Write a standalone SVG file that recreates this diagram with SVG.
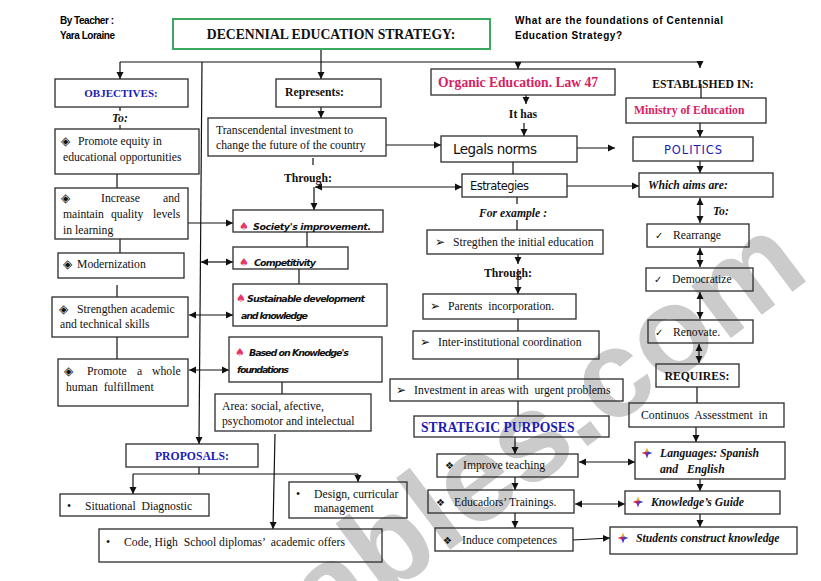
<svg xmlns="http://www.w3.org/2000/svg" width="821" height="581" viewBox="0 0 821 581">
<defs>
<style>
.b{fill:none;stroke:#2b2b2b;stroke-width:1.3}
.t{font-family:"Liberation Serif","Times New Roman",serif;font-size:11.7px;fill:#111;white-space:pre}
.tb{font-family:"Liberation Serif","Times New Roman",serif;font-size:11.7px;font-weight:bold;fill:#111}
.tbi{font-family:"Liberation Serif","Times New Roman",serif;font-size:11.7px;font-weight:bold;font-style:italic;fill:#111;white-space:pre}
.blue{fill:#1c1cb5}
.pink{fill:#d81e63}
.cm{font-family:"DejaVu Sans",sans-serif;font-size:9.5px;font-weight:bold;font-style:italic;fill:#111}
.sp{font-family:"DejaVu Sans",sans-serif;font-size:11px;fill:#e8336b}
.hd{font-family:"Liberation Sans",Arial,sans-serif;font-size:10px;font-weight:bold;fill:#000}
.sym{font-family:"DejaVu Sans",sans-serif;font-size:10px;fill:#111}
.dm{font-family:"DejaVu Sans",sans-serif;font-size:12px;fill:#111}
.c{fill:none;stroke:#111;stroke-width:1.2}
.e{marker-end:url(#a)}
.d{marker-start:url(#a);marker-end:url(#a)}
</style>
<marker id="a" markerUnits="userSpaceOnUse" markerWidth="8" markerHeight="8" refX="7" refY="4" orient="auto-start-reverse" viewBox="0 0 8 8"><path d="M0,0.5 L7,4 L0,7.5z" fill="#111"/></marker>
<g id="ico">
<polygon points="0,-5.5 1.6,-1 -1.6,-1" fill="#f2a51a"/>
<polygon points="-5.5,0 -1,-1.6 -1,1.6" fill="#e02b2b"/>
<polygon points="5.5,0 1,-1.6 1,1.6" fill="#2446c9"/>
<polygon points="0,5.5 1.6,1 -1.6,1" fill="#6a2bb0"/>
<rect x="-1.2" y="-1.2" width="2.4" height="2.4" fill="#8a2bb0"/>
</g>
</defs>
<rect width="821" height="581" fill="#fff"/>

<text x="812" y="277" transform="rotate(-37 812 277)" text-anchor="end" font-family="Liberation Sans, Arial, sans-serif" font-weight="bold" font-size="124" fill="#cbcbcb">eslprintables.com</text>

<g id="header">
<text class="hd" x="60" y="24" textLength="54">By Teacher :</text>
<text class="hd" x="60" y="39" textLength="55">Yara Loraine</text>
<text class="hd" x="515" y="24" textLength="208">What are the foundations of Centennial</text>
<text class="hd" x="515" y="39" textLength="107">Education Strategy?</text>
</g>

<g id="connectors">
<path class="c" d="M120,62 H700"/>
<path class="c e" d="M120,62 V79"/>
<path class="c e" d="M321,49 V79"/>
<path class="c e" d="M518,62 V69"/>
<path class="c e" d="M700,62 V68"/>
<path class="c e" d="M202,62 L199,444"/>
<path class="c" d="M120,107 V111 M120,125 V129"/>
<path class="c" d="M117,174 V188"/>
<path class="c" d="M120,239 V253"/>
<path class="c" d="M117,285 V297"/>
<path class="c" d="M117,337 V359"/>
<path class="c e" d="M188,223 H233"/>
<path class="c d" d="M201,262 H233"/>
<path class="c d" d="M189,315 H233"/>
<path class="c d" d="M189,370 H229"/>
<path class="c e" d="M321,107 V118"/>
<path class="c e" d="M386,145 H441"/>
<path class="c" d="M313,158 V165"/>
<path class="c d" d="M315,187 H462"/>
<path class="c e" d="M314,187 V210"/>
<path class="c" d="M307,232 V247"/>
<path class="c" d="M299,269 V284"/>
<path class="c" d="M282,382 V394"/>
<path class="c e" d="M275,434 L273,529"/>
<path class="c" d="M199,467 V474 M133,474 H358"/>
<path class="c e" d="M133,474 V494"/>
<path class="c e" d="M358,474 V482"/>
<path class="c e" d="M526,95 V104"/>
<path class="c e" d="M524,123 V136"/>
<path class="c e" d="M577,148 H615"/>
<path class="c" d="M513,162 V174"/>
<path class="c e" d="M567,186 H639"/>
<path class="c" d="M517,197 V204 M517,220 V230"/>
<path class="c e" d="M518,254 V264"/>
<path class="c e" d="M518,269 V294"/>
<path class="c" d="M518,319 V331 M518,359 V379 M518,401 V416"/>
<path class="c e" d="M515,437 V454"/>
<path class="c e" d="M515,477 V490"/>
<path class="c e" d="M515,513 V528"/>
<path class="c" d="M701,84 V98"/>
<path class="c e" d="M700,123 V137"/>
<path class="c e" d="M700,161 V173"/>
<path class="c d" d="M700,198 V223"/>
<path class="c d" d="M700,248 V267"/>
<path class="c d" d="M700,292 V319"/>
<path class="c d" d="M699,344 V363"/>
<path class="c" d="M697,387 V403"/>
<path class="c e" d="M696,427 V442"/>
<path class="c d" d="M579,462 H635"/>
<path class="c e" d="M700,479 V491"/>
<path class="c d" d="M575,504 H625"/>
<path class="c e" d="M700,514 V527"/>
<path class="c e" d="M573,540 L610,538"/>
</g>

<g id="title">
<rect x="173" y="19" width="317" height="30" fill="none" stroke="#3aa860" stroke-width="2"/>
<text class="tb" x="331" y="38.5" text-anchor="middle" style="font-size:13.7px">DECENNIAL EDUCATION STRATEGY:</text>
</g>

<g id="objectives">
<rect class="b" x="55" y="79" width="133" height="28"/>
<text class="tb blue" x="121" y="97" text-anchor="middle" style="font-size:11px">OBJECTIVES:</text>
</g>
<g id="to1"><text class="tbi" x="112" y="122">To:</text></g>
<g id="obj1">
<rect class="b" x="55" y="129" width="144" height="45"/>
<text class="dm" x="61" y="145">◈</text>
<text class="t" x="78" y="145">Promote equity in</text>
<text class="t" x="63" y="161">educational opportunities</text>
</g>
<g id="obj2">
<rect class="b" x="55" y="188" width="133" height="51"/>
<text class="dm" x="61" y="202">◈</text>
<text class="t" x="101" y="202">Increase</text>
<text class="t" x="163" y="202">and</text>
<text class="t" x="63" y="218">maintain</text>
<text class="t" x="111" y="218">quality</text>
<text class="t" x="153" y="218">levels</text>
<text class="t" x="63" y="234">in learning</text>
</g>
<g id="obj3">
<rect class="b" x="58" y="253" width="126" height="25"/>
<text class="dm" x="63" y="268">◈</text>
<text class="t" x="77" y="268">Modernization</text>
</g>
<g id="obj4">
<rect class="b" x="52" y="297" width="136" height="40"/>
<text class="dm" x="59" y="313">◈</text>
<text class="t" x="77" y="313">Strengthen academic</text>
<text class="t" x="60" y="328">and technical skills</text>
</g>
<g id="obj5">
<rect class="b" x="58" y="359" width="130" height="47"/>
<text class="dm" x="64" y="375">◈</text>
<text class="t" x="87" y="375">Promote</text>
<text class="t" x="137" y="375">a</text>
<text class="t" x="152" y="375">whole</text>
<text class="t" x="66" y="391">human  fulfillment</text>
</g>

<g id="represents">
<rect class="b" x="276" y="79" width="105" height="28"/>
<text class="tb" x="285" y="96">Represents:</text>
</g>
<g id="transcendental">
<rect class="b" x="208" y="118" width="178" height="38"/>
<text class="t" x="216" y="134">Transcendental investment to</text>
<text class="t" x="216" y="149">change the future of the country</text>
</g>
<g id="through1"><text class="tb" x="284" y="182">Through:</text></g>
<g id="society">
<rect class="b" x="233" y="210" width="150" height="22"/>
<text class="sp" x="239" y="230">♠</text>
<text class="cm" x="253" y="230" textLength="118">Society's improvement.</text>
</g>
<g id="competitivity">
<rect class="b" x="233" y="247" width="115" height="22"/>
<text class="sp" x="239" y="266">♠</text>
<text class="cm" x="254" y="266" textLength="62">Competitivity</text>
</g>
<g id="sustainable">
<rect class="b" x="233" y="284" width="154" height="42"/>
<text class="sp" x="236" y="302">♠</text>
<text class="cm" x="247" y="302" textLength="118">Sustainable development</text>
<text class="cm" x="241" y="319" textLength="67">and knowledge</text>
</g>
<g id="based">
<rect class="b" x="229" y="337" width="153" height="45"/>
<text class="sp" x="235" y="356">♠</text>
<text class="cm" x="249" y="356" textLength="100">Based on Knowledge's</text>
<text class="cm" x="237" y="373" textLength="52">foundations</text>
</g>
<g id="area">
<rect class="b" x="215" y="394" width="156" height="37"/>
<text class="t" x="222" y="410">Area: social, afective,</text>
<text class="t" x="222" y="425">psychomotor and intelectual</text>
</g>

<g id="proposals">
<rect class="b" x="126" y="444" width="132" height="23"/>
<text class="tb blue" x="192" y="460" text-anchor="middle">PROPOSALS:</text>
</g>
<g id="situational">
<rect class="b" x="60" y="494" width="149" height="22"/>
<text class="t" x="67" y="510">•</text>
<text class="t" x="85" y="510">Situational  Diagnostic</text>
</g>
<g id="design">
<rect class="b" x="289" y="482" width="118" height="36"/>
<text class="t" x="296" y="498">•</text>
<text class="t" x="314" y="498">Design, curricular</text>
<text class="t" x="314" y="512">management</text>
</g>
<g id="code">
<rect class="b" x="99" y="529" width="283" height="33"/>
<text class="t" x="106" y="546">•</text>
<text class="t" x="124" y="546">Code, High  School diplomas’  academic offers</text>
</g>

<g id="organic">
<rect class="b" x="431" y="69" width="184" height="26"/>
<text class="tb pink" x="438" y="87" style="font-size:13.6px">Organic Education. Law 47</text>
</g>
<g id="ithas"><text class="tb" x="523" y="118" text-anchor="middle">It has</text></g>
<g id="legals">
<rect class="b" x="441" y="136" width="136" height="26"/>
<text x="453" y="154" font-family="DejaVu Sans, sans-serif" font-size="13.5" fill="#111" textLength="84">Legals norms</text>
</g>
<g id="estrategies">
<rect class="b" x="462" y="174" width="105" height="23"/>
<text x="470" y="190" font-family="DejaVu Sans, sans-serif" font-size="11.5" fill="#111" textLength="59">Estrategies</text>
</g>
<g id="forexample"><text class="tbi" x="513" y="217" text-anchor="middle">For example :</text></g>
<g id="stregthen">
<rect class="b" x="427" y="230" width="176" height="24"/>
<text class="dm" x="435" y="246">➢</text>
<text class="t" x="453" y="246">Stregthen the initial education</text>
</g>
<g id="through2"><text class="tb" x="508" y="277" text-anchor="middle">Through:</text></g>
<g id="parents">
<rect class="b" x="423" y="294" width="153" height="25"/>
<text class="dm" x="430" y="310">➢</text>
<text class="t" x="448" y="310">Parents  incorporation.</text>
</g>
<g id="inter">
<rect class="b" x="413" y="331" width="186" height="28"/>
<text class="dm" x="420" y="346">➢</text>
<text class="t" x="438" y="346">Inter-institutional coordination</text>
</g>
<g id="investment">
<rect class="b" x="390" y="379" width="233" height="22"/>
<text class="dm" x="396" y="394">➢</text>
<text class="t" x="414" y="394">Investment in areas with  urgent problems</text>
</g>
<g id="strategic">
<rect class="b" x="414" y="416" width="195" height="21"/>
<text class="tb blue" x="421" y="432" style="font-size:13.6px">STRATEGIC PURPOSES</text>
</g>
<g id="improve">
<rect class="b" x="437" y="454" width="141" height="23"/>
<text class="sym" x="445" y="469">❖</text>
<text class="t" x="463" y="469">Improve teaching</text>
</g>
<g id="educadors">
<rect class="b" x="428" y="490" width="146" height="23"/>
<text class="sym" x="436" y="506">❖</text>
<text class="t" x="454" y="506">Educadors’ Trainings.</text>
</g>
<g id="induce">
<rect class="b" x="435" y="528" width="138" height="23"/>
<text class="sym" x="443" y="544">❖</text>
<text class="t" x="462" y="544">Induce competences</text>
</g>

<g id="established"><text class="tb" x="703" y="88" text-anchor="middle">ESTABLISHED IN:</text></g>
<g id="ministry">
<rect class="b" x="626" y="98" width="140" height="25"/>
<text class="tb pink" x="634" y="114">Ministry of Education</text>
</g>
<g id="politics">
<rect class="b" x="633" y="137" width="120" height="24"/>
<text x="664" y="154" font-family="DejaVu Sans, sans-serif" font-size="11.5" fill="#1c1cb5" textLength="58">POLITICS</text>
</g>
<g id="whichaims">
<rect class="b" x="639" y="173" width="134" height="24"/>
<text class="tbi" x="648" y="189">Which aims are:</text>
</g>
<g id="to2"><text class="tbi" x="713" y="215">To:</text></g>
<g id="rearrange">
<rect class="b" x="647" y="224" width="102" height="23"/>
<text class="sym" x="655" y="239">✓</text>
<text class="t" x="673" y="239">Rearrange</text>
</g>
<g id="democratize">
<rect class="b" x="646" y="268" width="107" height="23"/>
<text class="sym" x="654" y="283">✓</text>
<text class="t" x="672" y="283">Democratize</text>
</g>
<g id="renovate">
<rect class="b" x="648" y="320" width="105" height="23"/>
<text class="sym" x="655" y="336">✓</text>
<text class="t" x="673" y="336">Renovate.</text>
</g>
<g id="requires">
<rect class="b" x="656" y="364" width="83" height="23"/>
<text class="tb" x="697" y="380" text-anchor="middle">REQUIRES:</text>
</g>
<g id="continuos">
<rect class="b" x="629" y="403" width="155" height="24"/>
<text class="t" x="641" y="419">Continuos  Assesstment  in</text>
</g>
<g id="languages">
<rect class="b" x="635" y="442" width="150" height="37"/>
<use href="#ico" x="647" y="453"/>
<text class="tbi" x="660" y="457">Languages: Spanish</text>
<text class="tbi" x="660" y="473">and   English</text>
</g>
<g id="guide">
<rect class="b" x="625" y="491" width="155" height="23"/>
<use href="#ico" x="638" y="502"/>
<text class="tbi" x="651" y="506">Knowledge’s Guide</text>
</g>
<g id="students">
<rect class="b" x="610" y="527" width="187" height="27"/>
<use href="#ico" x="623" y="538"/>
<text class="tbi" x="636" y="542">Students construct knowledge</text>
</g>
</svg>
